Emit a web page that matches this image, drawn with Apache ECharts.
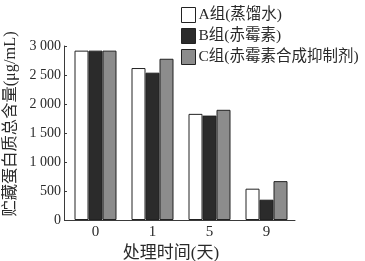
<!DOCTYPE html>
<html>
<head>
<meta charset="utf-8">
<script src="https://cdn.jsdelivr.net/npm/echarts@6/dist/echarts.min.js"></script>
<style>
html,body{margin:0;padding:0;background:#fff;}
#c{width:365px;height:261px;}
</style>
</head>
<body>
<div id="c"></div>
<script>
var categories = ['0', '1', '5', '9'];
var seriesNames = ['A组(蒸馏水)', 'B组(赤霉素)', 'C组(赤霉素合成抑制剂)'];
var groupA = [2920, 2620, 1830, 540];
var groupB = [2920, 2540, 1800, 350];
var groupC = [2920, 2780, 1900, 670];
var yTicks = [0, 500, 1000, 1500, 2000, 2500, 3000];

var FONT = '"Liberation Serif", "Noto Sans CJK SC", serif';
var TXT = '#2a2a2a';
var chart = echarts.init(document.getElementById('c'), null, {renderer: 'canvas'});
var colors = ['#ffffff', '#2b2b2b', '#8c8c8c'];
var data = [groupA, groupB, groupC];
chart.setOption({
  animation: false,
  backgroundColor: '#ffffff',
  textStyle: {fontFamily: FONT, color: TXT},
  legend: {
    orient: 'vertical',
    left: 176,
    top: 2,
    icon: 'rect',
    itemWidth: 14,
    itemHeight: 15,
    itemGap: 5,
    textStyle: {fontFamily: FONT, fontSize: 15.5, color: TXT, padding: [0, 0, 0, -2]},
    data: seriesNames.map(function (n, i) {
      return {name: n, icon: 'rect', itemStyle: {color: colors[i], borderColor: '#222', borderWidth: 1}};
    })
  },
  grid: {left: 67, right: 70, top: 46, bottom: 41, containLabel: false, outerBoundsMode: 'none'},
  xAxis: {
    type: 'category',
    data: categories,
    name: '处理时间(天)',
    nameLocation: 'middle',
    nameGap: 22,
    nameTextStyle: {fontFamily: FONT, fontSize: 17, color: TXT, padding: [0, 20, 0, 0]},
    axisLine: {lineStyle: {color: '#3a3a3a', width: 1}},
    axisTick: {inside: true, length: 3, lineStyle: {color: '#3a3a3a'}},
    axisLabel: {fontFamily: FONT, fontSize: 15, color: TXT, margin: 5}
  },
  yAxis: {
    type: 'value',
    min: yTicks[0],
    max: yTicks[yTicks.length - 1],
    interval: 500,
    offset: 3,
    name: '贮藏蛋白质总含量(μg/mL)',
    nameLocation: 'middle',
    nameGap: 44,
    nameRotate: 90,
    nameTextStyle: {fontFamily: FONT, fontSize: 16.3, color: TXT, padding: [0, 0, 0, 18]},
    splitLine: {show: false},
    axisLine: {show: true, lineStyle: {color: '#3a3a3a', width: 1}},
    axisTick: {show: true, inside: true, length: 3, lineStyle: {color: '#3a3a3a'}},
    axisLabel: {
      fontFamily: FONT, fontSize: 14, color: TXT, margin: 3,
      formatter: function (v) { return v >= 1000 ? String(v).replace(/(\d)(\d{3})$/, '$1 $2') : String(v); }
    }
  },
  series: seriesNames.map(function (n, i) {
    return {
      name: n,
      type: 'bar',
      data: data[i],
      barWidth: 14,
      barGap: '0%',
      itemStyle: {color: colors[i], borderColor: '#222', borderWidth: 1}
    };
  })
});
</script>
</body>
</html>
